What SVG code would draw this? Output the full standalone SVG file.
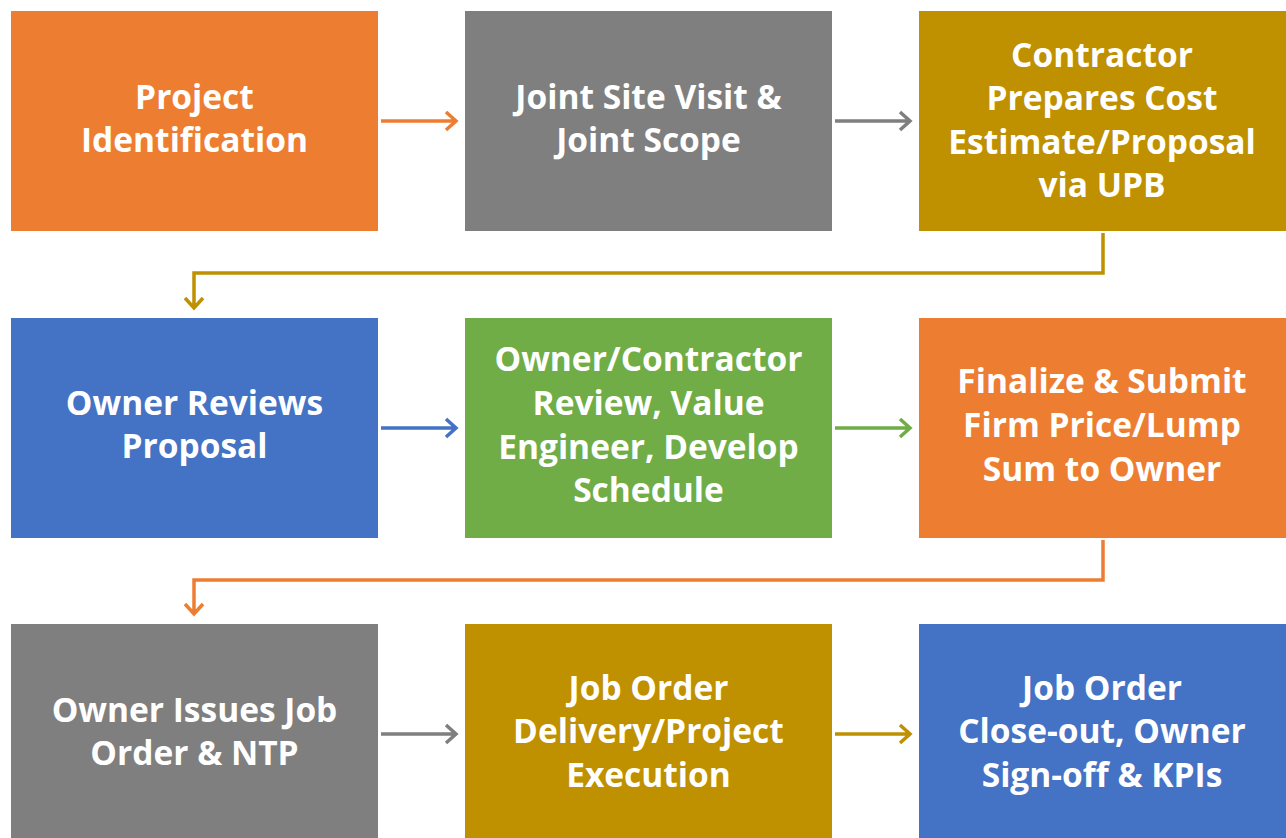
<svg xmlns="http://www.w3.org/2000/svg" width="1286" height="838" viewBox="0 0 1286 838">
<style>
.t{font-family:"Open Sans","Liberation Sans",sans-serif;font-weight:700;font-size:33.5px;fill:#fff;text-anchor:middle}
.c{fill:none;stroke-width:3.5}
</style>
<rect width="1286" height="838" fill="#fff"/>
<g id="n1"><rect x="11" y="11" width="367" height="220" fill="#ED7D31"/><text class="t"><tspan x="194.5" y="109">Project</tspan><tspan x="194.5" y="152">Identification</tspan></text></g>
<g id="n2"><rect x="465" y="11" width="367" height="220" fill="#7F7F7F"/><text class="t"><tspan x="648.5" y="109">Joint Site Visit &amp;</tspan><tspan x="648.5" y="152">Joint Scope</tspan></text></g>
<g id="n3"><rect x="919" y="11" width="367" height="220" fill="#BF9000"/><text class="t"><tspan x="1102" y="67">Contractor</tspan><tspan x="1102" y="110">Prepares Cost</tspan><tspan x="1102" y="154">Estimate/Proposal</tspan><tspan x="1102" y="197">via UPB</tspan></text></g>
<g id="n4"><rect x="11" y="318" width="367" height="220" fill="#4472C4"/><text class="t"><tspan x="194.5" y="415">Owner Reviews</tspan><tspan x="194.5" y="458">Proposal</tspan></text></g>
<g id="n5"><rect x="465" y="318" width="367" height="220" fill="#70AD47"/><text class="t"><tspan x="648.5" y="371">Owner/Contractor</tspan><tspan x="648.5" y="415">Review, Value</tspan><tspan x="648.5" y="459">Engineer, Develop</tspan><tspan x="648.5" y="502">Schedule</tspan></text></g>
<g id="n6"><rect x="919" y="318" width="367" height="220" fill="#ED7D31"/><text class="t"><tspan x="1102" y="393">Finalize &amp; Submit</tspan><tspan x="1102" y="437">Firm Price/Lump</tspan><tspan x="1102" y="481">Sum to Owner</tspan></text></g>
<g id="n7"><rect x="11" y="624" width="367" height="220" fill="#7F7F7F"/><text class="t"><tspan x="194.5" y="722">Owner Issues Job</tspan><tspan x="194.5" y="765">Order &amp; NTP</tspan></text></g>
<g id="n8"><rect x="465" y="624" width="367" height="220" fill="#BF9000"/><text class="t"><tspan x="648.5" y="700">Job Order</tspan><tspan x="648.5" y="743">Delivery/Project</tspan><tspan x="648.5" y="787">Execution</tspan></text></g>
<g id="n9"><rect x="919" y="624" width="367" height="220" fill="#4472C4"/><text class="t"><tspan x="1102" y="700">Job Order</tspan><tspan x="1102" y="743">Close-out, Owner</tspan><tspan x="1102" y="787">Sign-off &amp; KPIs</tspan></text></g>
<g id="connectors" class="c">
<path d="M381,121 H456 M446,112 L456,121 L446,130" stroke="#ED7D31" class="c"/>
<path d="M835,121 H910 M900,112 L910,121 L900,130" stroke="#7F7F7F" class="c"/>
<path d="M1103,233 V273 H194 V308 M185,298 L194,308 L203,298" stroke="#BF9000" class="c"/>
<path d="M381,428 H456 M446,419 L456,428 L446,437" stroke="#4472C4" class="c"/>
<path d="M835,428 H910 M900,419 L910,428 L900,437" stroke="#70AD47" class="c"/>
<path d="M1103,540 V580 H194 V614 M185,604 L194,614 L203,604" stroke="#ED7D31" class="c"/>
<path d="M381,734 H456 M446,725 L456,734 L446,743" stroke="#7F7F7F" class="c"/>
<path d="M835,734 H910 M900,725 L910,734 L900,743" stroke="#BF9000" class="c"/>
</g>
</svg>
